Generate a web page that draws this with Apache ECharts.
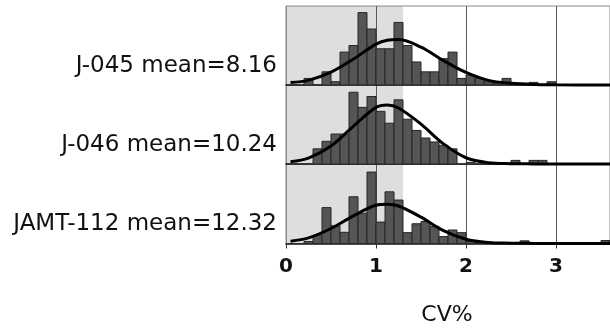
<!DOCTYPE html>
<html>
<head>
<meta charset="utf-8">
<title>CV% histograms</title>
<script src="https://cdn.jsdelivr.net/npm/echarts@6.0.0/dist/echarts.min.js"></script>
<style>
html, body { margin: 0; padding: 0; background: #fff; }
#chart { width: 610px; height: 329px; }
</style>
</head>
<body>
<div id="chart"></div>
<script>
// left edge of each 0.1-wide CV% bin
var binLefts = [0.0, 0.1, 0.2, 0.3, 0.4, 0.5, 0.6, 0.7, 0.8, 0.9,
                1.0, 1.1, 1.2, 1.3, 1.4, 1.5, 1.6, 1.7, 1.8, 1.9,
                2.0, 2.1, 2.2, 2.3, 2.4, 2.5, 2.6, 2.7, 2.8, 2.9,
                3.0, 3.1, 3.2, 3.3, 3.4, 3.5];
var binWidth = 0.1;

var panelNames = ['J-045 mean=8.16', 'J-046 mean=10.24', 'JAMT-112 mean=12.32'];

// histogram heights (counts) per bin
var counts045 = [0, 0, 2, 0, 4, 1, 10, 12, 22, 17, 11, 11, 19, 12, 7, 4, 4, 8, 10, 2,
                 3, 2, 1, 0.5, 2, 0.5, 0.5, 0.8, 0, 1, 0, 0, 0, 0, 0, 0];
var counts046 = [0, 0, 0, 4.6, 6.9, 9.1, 9.1, 21.8, 17.2, 20.5, 16, 12.4, 19.5, 13.6, 10.2, 7.9, 6.7, 5.7, 4.6, 0,
                 0.5, 0, 0, 0, 0, 1.1, 0, 1.1, 1.1, 0, 0, 0, 0, 0, 0, 0];
var countsJamt = [0, 0, 0.6, 2.5, 10.9, 5.4, 3.4, 14.2, 9.2, 21.7, 6.5, 15.7, 13.2, 3.3, 6, 6.7, 5.2, 2.1, 4.1, 3.3,
                  0.6, 0.3, 0, 0, 0, 0, 0.8, 0, 0, 0, 0, 0, 0, 0, 0, 0.9];

// fitted curves
var curveX    = [0.05, 0.25, 0.5, 0.75, 1.0, 1.125, 1.25, 1.5, 1.75, 2.0, 2.25, 2.5, 2.75, 3.0, 3.6];
var curve045  = [0.76, 1.4, 3.9, 7.9, 12.4, 13.6, 13.8, 11.5, 7.4, 3.8, 1.4, 0.5, 0.15, 0.06, 0];
var curve046  = [0.7, 1.8, 5.45, 11.5, 17.2, 17.9, 17.0, 12.1, 6.1, 1.9, 0.4, 0.1, 0.03, 0, 0];
var curveJamt = [0.7, 1.7, 4.55, 8.4, 11.6, 11.9, 11.4, 8.0, 3.9, 1.3, 0.3, 0.09, 0.03, 0, 0];

var shadeRange = [0, 1.3];
var xMin = 0, xMax = 3.6, xStep = 1;
var yMax = 24;

var allCounts = [counts045, counts046, countsJamt];
var allCurves = [curve045, curve046, curveJamt];

var panelTops = [6, 85, 164.5];
var panelH = 79;
var font = '"DejaVu Sans", Verdana, sans-serif';

var grids = [], xAxes = [], yAxes = [], series = [], graphics = [];

panelTops.forEach(function (top, i) {
    var last = i === panelTops.length - 1;
    grids.push({
        left: 286, top: top, width: 330, height: panelH,
        show: true, z: 2, backgroundColor: 'transparent',
        borderColor: '#8a8a8a', borderWidth: 1
    });
    xAxes.push({
        gridIndex: i, type: 'value', min: xMin, max: xMax, interval: xStep, z: 2,
        axisLine: { show: true, onZero: false, lineStyle: { color: '#111', width: 1.5 } },
        axisTick: { show: last, length: 5, lineStyle: { color: '#333' } },
        axisLabel: {
            show: last, margin: 13, color: '#111', fontSize: 20, fontWeight: 'bold',
            fontFamily: font, showMaxLabel: false,
            formatter: function (v) { return v % 1 === 0 ? String(v) : ''; }
        },
        splitLine: { show: true, lineStyle: { color: '#5a5a5a', width: 1 } }
    });
    yAxes.push({
        gridIndex: i, type: 'value', min: 0, max: yMax, z: 2,
        axisLine: { show: true, lineStyle: { color: '#8a8a8a', width: 1 } },
        axisTick: { show: false }, axisLabel: { show: false }, splitLine: { show: false }
    });

    // grey band
    series.push({
        type: 'line', xAxisIndex: i, yAxisIndex: i, data: [], silent: true,
        markArea: {
            silent: true, z: 1,
            itemStyle: { color: '#dedede' },
            data: [[{ xAxis: shadeRange[0] }, { xAxis: shadeRange[1] }]]
        }
    });

    var counts = allCounts[i];
    series.push({
        type: 'custom', xAxisIndex: i, yAxisIndex: i, z: 3, clip: true,
        encode: { x: 0, y: 1 },
        data: binLefts.map(function (x, k) { return [x, counts[k]]; })
                      .filter(function (d) { return d[1] > 0; }),
        renderItem: function (params, api) {
            var x0 = api.value(0), h = api.value(1);
            var p0 = api.coord([x0, h]);
            var p1 = api.coord([x0 + binWidth, 0]);
            return {
                type: 'rect',
                shape: { x: p0[0], y: p0[1], width: p1[0] - p0[0], height: p1[1] - p0[1] },
                style: { fill: '#555555', stroke: '#262626', lineWidth: 1 }
            };
        }
    });

    var curve = allCurves[i];
    series.push({
        type: 'line', xAxisIndex: i, yAxisIndex: i, z: 4, clip: false,
        smooth: 0.35, showSymbol: false, silent: true,
        lineStyle: { color: '#000', width: 3 },
        data: curveX.map(function (x, j) { return [x, curve[j]]; })
    });

    graphics.push({
        type: 'text', x: 277, y: top + panelH - 19,
        style: {
            text: panelNames[i], align: 'right', verticalAlign: 'middle',
            fontSize: 23, fontFamily: font, fill: '#111'
        }
    });
});

graphics.push({
    type: 'text', x: 447, y: 315.5,
    style: {
        text: 'CV%', align: 'center', verticalAlign: 'middle',
        fontSize: 22, fontFamily: font, fill: '#111'
    }
});

var myChart = echarts.init(document.getElementById('chart'));
myChart.setOption({
    animation: false,
    backgroundColor: '#fff',
    grid: grids,
    xAxis: xAxes,
    yAxis: yAxes,
    series: series,
    graphic: graphics
});
</script>
</body>
</html>
